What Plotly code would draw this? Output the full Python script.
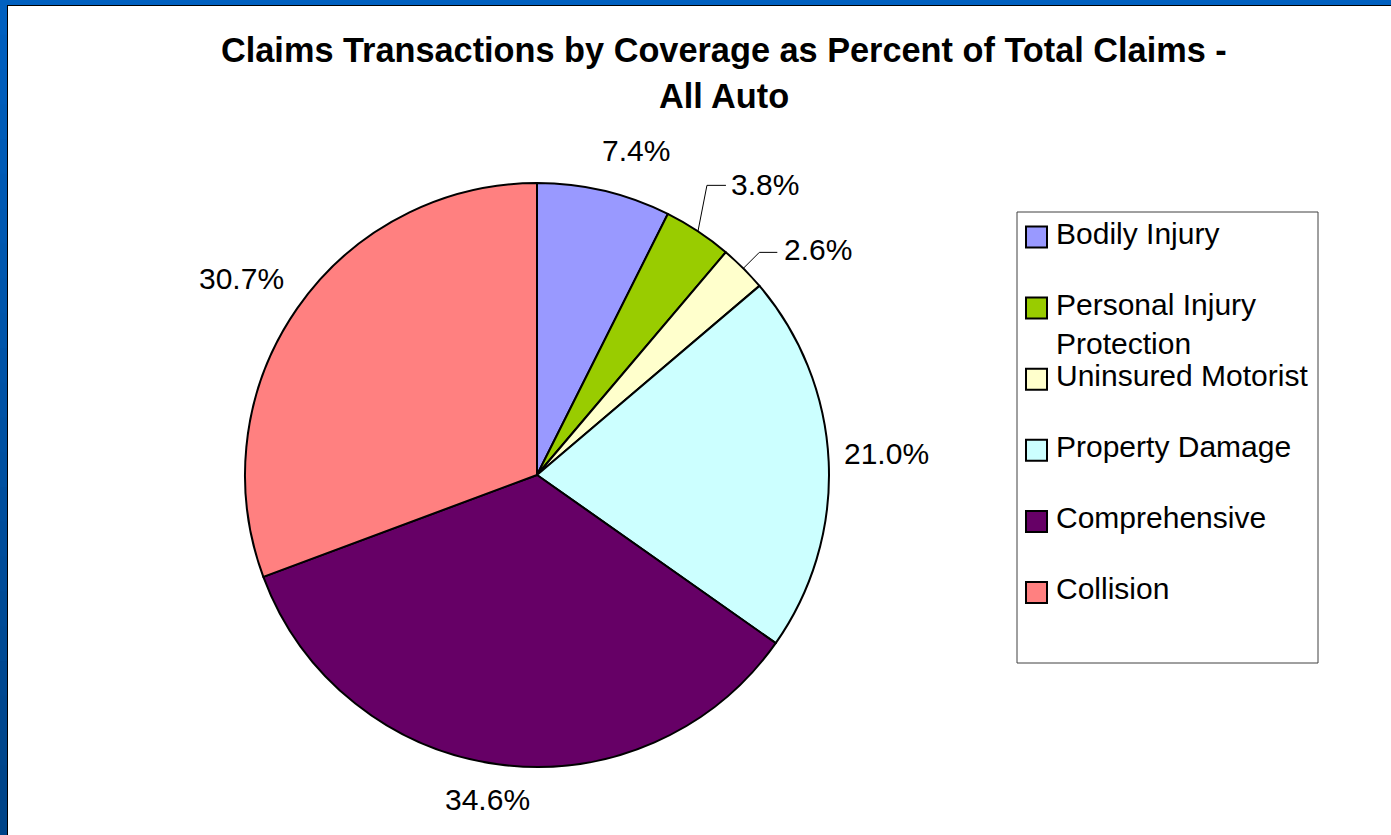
import math
import plotly.graph_objects as go

# ---------------- data ----------------
categories = ["Bodily Injury", "Personal Injury<br>Protection", "Uninsured Motorist",
              "Property Damage", "Comprehensive", "Collision"]
values = [7.4, 3.8, 2.6, 21.0, 34.6, 30.7]
colors = ["#9999FF", "#99CC00", "#FFFFCC", "#CCFFFF", "#660066", "#FF8080"]
title_lines = ["Claims Transactions by Coverage as Percent of Total Claims -", "All Auto"]

# ---------------- layout constants ----------------
W, H = 1391, 835
CX, CY, R = 537, 475, 292
FONT = "Liberation Sans, Arial, sans-serif"
LABEL_FS = 30

# label text-centre offsets (pixels) from the slice's outer edge midpoint
label_shift = [(32, -40), (67, -47), (75, -19), (58, -8), (-12, 35), (-56, -30)]
# leader lines: (bend offset, end offset) relative to edge point, None = no leader
leaders = [None, ((9, -46), (28, -46)), ((16, -16), (34, -16)), None, None, None]


def px(x):
    return x / W


def py(y):
    return 1 - y / H


fig = go.Figure()
fig.add_trace(go.Pie(
    labels=[c.replace("<br>", " ") for c in categories],
    values=values,
    sort=False,
    direction="clockwise",
    rotation=0,
    marker=dict(colors=colors, line=dict(color="black", width=2)),
    textinfo="none",
    hoverinfo="label+percent",
    showlegend=False,
    domain=dict(x=[px(CX - R), px(CX + R)], y=[py(CY + R), py(CY - R)]),
))

annotations = []
shapes = []

# blue frame (gradient on left)
n = 24
for i in range(n):
    t = i / (n - 1)
    col = "rgb(0,%d,%d)" % (int(96 - 28 * t), int(192 - 56 * t))
    shapes.append(dict(type="rect", xref="paper", yref="paper",
                       x0=0, x1=px(7), y0=py(min(H, H * (i + 1) / n + 2)), y1=py(H * i / n),
                       fillcolor=col, line=dict(width=0), layer="above"))
shapes.append(dict(type="rect", xref="paper", yref="paper", x0=0, x1=1, y0=py(5), y1=1,
                   fillcolor="rgb(0,96,192)", line=dict(width=0), layer="above"))
shapes.append(dict(type="line", xref="paper", yref="paper", x0=px(7.5), x1=px(7.5), y0=0, y1=py(5),
                   line=dict(color="black", width=1), layer="above"))
shapes.append(dict(type="line", xref="paper", yref="paper", x0=px(7.5), x1=1, y0=py(5.5), y1=py(5.5),
                   line=dict(color="black", width=1), layer="above"))

# title
for k, (line, yy) in enumerate(zip(title_lines, [50, 96])):
    annotations.append(dict(text="<b>%s</b>" % line, x=px(724), y=py(yy), xref="paper", yref="paper",
                            showarrow=False, xanchor="center", yanchor="middle",
                            font=dict(family=FONT, size=34.3, color="black")))

# data labels from slice angles
total = sum(values)
cum = 0.0
for i, v in enumerate(values):
    mid = (cum + v / 2) / total * 2 * math.pi
    cum += v
    ex = CX + R * math.sin(mid)
    ey = CY - R * math.cos(mid)
    dx, dy = label_shift[i]
    annotations.append(dict(text="%.1f%%" % v, x=px(ex), y=py(ey), xref="paper", yref="paper",
                            xshift=dx, yshift=-dy, showarrow=False,
                            xanchor="center", yanchor="middle",
                            font=dict(family=FONT, size=LABEL_FS, color="black")))
    if leaders[i]:
        (bx, by), (fx, fy) = leaders[i]
        path = "M %f,%f L %f,%f L %f,%f" % (px(ex), py(ey), px(ex + bx), py(ey + by), px(ex + fx), py(ey + fy))
        shapes.append(dict(type="path", xref="paper", yref="paper", path=path,
                           line=dict(color="black", width=1)))

# legend (custom)
LX0, LX1, LY0, LY1 = 1017, 1318, 212, 663
shapes.append(dict(type="rect", xref="paper", yref="paper", x0=px(LX0), x1=px(LX1), y0=py(LY1), y1=py(LY0),
                   line=dict(color="#404040", width=1), fillcolor="white", layer="below"))
L_START, L_STEP, SQ = 237, 71.1, 21
for i, (cat, col) in enumerate(zip(categories, colors)):
    yc = L_START + i * L_STEP
    shapes.append(dict(type="rect", xref="paper", yref="paper",
                       x0=px(1026), x1=px(1026 + SQ), y0=py(yc + SQ / 2), y1=py(yc - SQ / 2),
                       fillcolor=col, line=dict(color="black", width=2)))
    nl = cat.count("<br>")
    annotations.append(dict(text=cat, x=px(1054), y=py(yc + nl * 39 / 2 - 4), xref="paper", yref="paper",
                            showarrow=False, xanchor="left", yanchor="middle", align="left",
                            font=dict(family=FONT, size=30, color="black")))

fig.update_layout(
    width=W, height=H,
    margin=dict(l=0, r=0, t=0, b=0),
    paper_bgcolor="white", plot_bgcolor="white",
    annotations=annotations, shapes=shapes,
)
fig.write_html("out.html")
